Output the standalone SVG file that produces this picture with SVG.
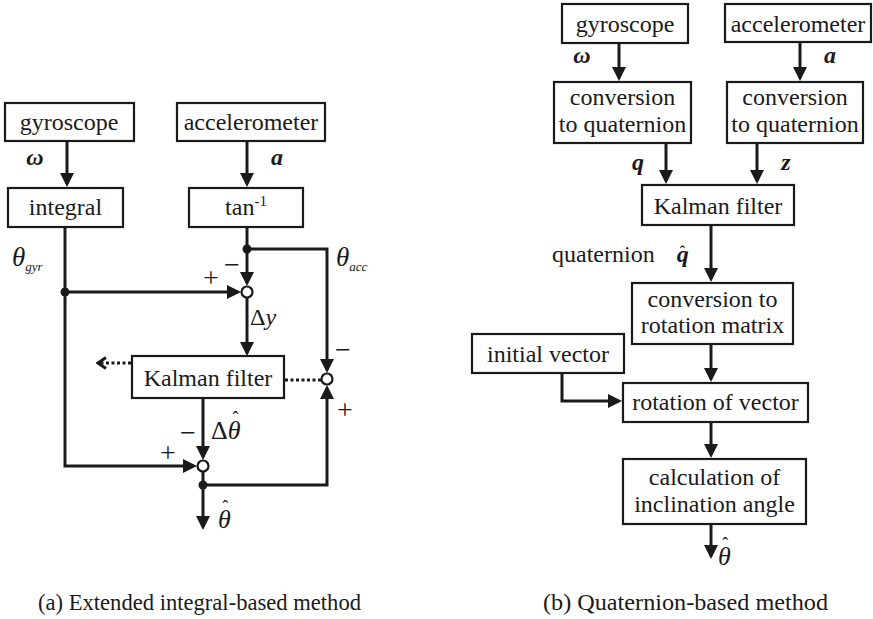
<svg xmlns="http://www.w3.org/2000/svg" width="873" height="619" viewBox="0 0 873 619">
<style>
text{font-family:"Liberation Serif","DejaVu Serif","Noto Serif","Times New Roman",Times,serif}
.box{fill:#fff;stroke:#1a1a1a;stroke-width:2.2}
.t{font-size:24px;fill:#1a1a1a;text-anchor:middle}
.ln{fill:none;stroke:#1a1a1a;stroke-width:3}
.dot{fill:none;stroke:#1a1a1a;stroke-width:3;stroke-dasharray:3 2.5}
.j{fill:#fff;stroke:#1a1a1a;stroke-width:2.2}
.jd{fill:#1a1a1a}
.sym{fill:#1a1a1a}
.sg{fill:#1a1a1a;font-size:28px;text-anchor:middle}
.bi{font-weight:bold;font-style:italic}
.it{font-style:italic}
.cap{font-size:24px;fill:#1a1a1a}
</style>
<defs>
<marker id="arr" viewBox="0 0 14 14" refX="11" refY="7" markerWidth="14" markerHeight="14" markerUnits="userSpaceOnUse" orient="auto">
<path d="M0,0 L14,7 L0,14 z" fill="#1a1a1a"/>
</marker>
<marker id="open" viewBox="0 0 12 14" refX="10" refY="7" markerWidth="12" markerHeight="14" markerUnits="userSpaceOnUse" orient="auto">
<path d="M2,1.5 L10,7 L2,12.5" fill="none" stroke="#1a1a1a" stroke-width="3"/>
</marker>
</defs>

<!-- (a) -->
<g id="a-gyroscope"><rect class="box" x="5" y="103" width="129" height="38"/><text class="t" x="69" y="130">gyroscope</text></g>
<g id="a-integral"><rect class="box" x="8" y="188" width="115" height="39"/><text class="t" x="65.5" y="215">integral</text></g>
<g id="a-accelerometer"><rect class="box" x="177" y="103" width="148" height="38"/><text class="t" x="251" y="130">accelerometer</text></g>
<g id="a-atan"><rect class="box" x="189" y="188" width="114" height="39"/><text class="t" x="246" y="215">tan<tspan font-size="15" dy="-9">-1</tspan></text></g>
<g id="a-kalman"><rect class="box" x="132" y="356" width="152" height="42"/><text class="t" x="208" y="386">Kalman filter</text></g>
<g id="a-sum1"><circle class="j" cx="247" cy="292" r="5.5"/></g>
<g id="a-sum2"><circle class="j" cx="203" cy="466" r="5.5"/></g>
<g id="a-sum3"><circle class="j" cx="327" cy="379" r="5.5"/></g>

<g id="a-connectors">
<path class="ln" d="M67,141 V184" marker-end="url(#arr)"/>
<path class="ln" d="M247,141 V184" marker-end="url(#arr)"/>
<path class="ln" d="M247,227 V283" marker-end="url(#arr)"/>
<path class="ln" d="M247,249 H327 V370" marker-end="url(#arr)"/>
<path class="ln" d="M65,227 V466 H194" marker-end="url(#arr)"/>
<path class="ln" d="M65,292 H238" marker-end="url(#arr)"/>
<path class="ln" d="M247,297.5 V353" marker-end="url(#arr)"/>
<path class="ln" d="M203,398 V457" marker-end="url(#arr)"/>
<path class="ln" d="M203,471.5 V527" marker-end="url(#arr)"/>
<path class="ln" d="M203,485 H327 V388" marker-end="url(#arr)"/>
<path class="dot" d="M131,363 H98" marker-end="url(#open)"/>
<path class="dot" d="M285,380 H321"/>
<circle class="jd" cx="247" cy="249" r="4.5"/>
<circle class="jd" cx="65" cy="292" r="4.5"/>
<circle class="jd" cx="203" cy="485" r="4.5"/>
</g>

<g id="a-labels">
<text class="sym bi" x="35" y="165" font-size="24" text-anchor="middle">ω</text>
<text class="sym bi" x="277" y="165" font-size="24" text-anchor="middle">a</text>
<text class="sym it" x="12" y="266" font-size="27">θ<tspan font-size="13" dy="5">gyr</tspan></text>
<text class="sym it" x="336" y="266" font-size="27">θ<tspan font-size="13" dy="5">acc</tspan></text>
<text class="sg" x="232" y="274">−</text>
<text class="sg" x="211" y="287">+</text>
<text class="sym" x="250" y="325" font-size="24">Δ<tspan class="it">y</tspan></text>
<text class="sg" x="343" y="359">−</text>
<text class="sg" x="345" y="419">+</text>
<text class="sym" x="211" y="439" font-size="26">Δ<tspan class="it">θ</tspan><tspan font-size="18" dx="-8" dy="-15">ˆ</tspan></text>
<text class="sg" x="188" y="442">−</text>
<text class="sg" x="168" y="462">+</text>
<text class="sym it" x="218" y="528" font-size="26">θ<tspan font-style="normal" font-size="18" dx="-8.5" dy="-15">ˆ</tspan></text>
</g>

<!-- (b) -->
<g id="b-gyroscope"><rect class="box" x="562" y="4" width="126" height="39"/><text class="t" x="625" y="32">gyroscope</text></g>
<g id="b-accelerometer"><rect class="box" x="725" y="4" width="146" height="38"/><text class="t" x="798" y="32">accelerometer</text></g>
<g id="b-conv1"><rect class="box" x="554" y="82" width="137" height="61"/><text class="t" x="622.5" y="105">conversion</text><text class="t" x="622.5" y="132">to quaternion</text></g>
<g id="b-conv2"><rect class="box" x="727" y="82" width="136" height="61"/><text class="t" x="795" y="105">conversion</text><text class="t" x="795" y="132">to quaternion</text></g>
<g id="b-kalman"><rect class="box" x="642" y="185" width="152" height="40"/><text class="t" x="718" y="214">Kalman filter</text></g>
<g id="b-convrot"><rect class="box" x="632" y="283" width="161" height="61"/><text class="t" x="712.5" y="307">conversion to</text><text class="t" x="712.5" y="333">rotation matrix</text></g>
<g id="b-initial"><rect class="box" x="472" y="334" width="152" height="39"/><text class="t" x="548" y="362">initial vector</text></g>
<g id="b-rotation"><rect class="box" x="623" y="383" width="185" height="39"/><text class="t" x="715.5" y="410">rotation of vector</text></g>
<g id="b-calc"><rect class="box" x="623" y="459" width="183" height="65"/><text class="t" x="714.5" y="485">calculation of</text><text class="t" x="714.5" y="512">inclination angle</text></g>

<g id="b-connectors">
<path class="ln" d="M619,43 V78" marker-end="url(#arr)"/>
<path class="ln" d="M800,42 V78" marker-end="url(#arr)"/>
<path class="ln" d="M666,143 V181" marker-end="url(#arr)"/>
<path class="ln" d="M757,143 V181" marker-end="url(#arr)"/>
<path class="ln" d="M711,225 V279" marker-end="url(#arr)"/>
<path class="ln" d="M711,344 V379" marker-end="url(#arr)"/>
<path class="ln" d="M562,373 V401 H619" marker-end="url(#arr)"/>
<path class="ln" d="M711,422 V455" marker-end="url(#arr)"/>
<path class="ln" d="M711,524 V556" marker-end="url(#arr)"/>
</g>

<g id="b-labels">
<text class="sym bi" x="582" y="63" font-size="24" text-anchor="middle">ω</text>
<text class="sym bi" x="830" y="63" font-size="24" text-anchor="middle">a</text>
<text class="sym bi" x="638" y="170" font-size="24" text-anchor="middle">q</text>
<text class="sym bi" x="786" y="170" font-size="24" text-anchor="middle">z</text>
<text class="sym" x="552" y="262" font-size="24">quaternion <tspan class="bi" dx="16">q</tspan><tspan font-weight="bold" font-size="16" dx="-9" dy="-5">ˆ</tspan></text>
<text class="sym it" x="718" y="565" font-size="26">θ<tspan font-style="normal" font-size="18" dx="-8.5" dy="-15">ˆ</tspan></text>
</g>

<g id="captions">
<text class="cap" x="38" y="610" textLength="323" lengthAdjust="spacingAndGlyphs">(a) Extended integral-based method</text>
<text class="cap" x="543" y="610" textLength="285" lengthAdjust="spacingAndGlyphs">(b) Quaternion-based method</text>
</g>
</svg>
